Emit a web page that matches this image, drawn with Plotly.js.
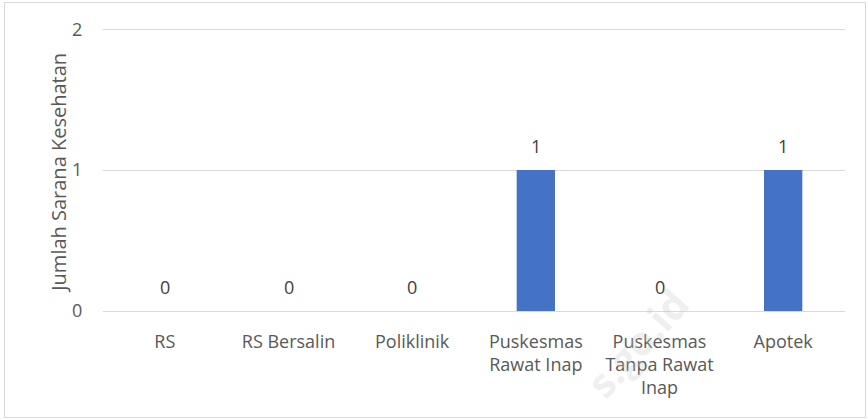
<!DOCTYPE html>
<html>
<head>
<meta charset="utf-8">
<script src="https://cdn.plot.ly/plotly-3.0.1.min.js"></script>
<style>
html,body{margin:0;padding:0;background:#fff;}
#wrap{position:relative;width:868px;height:420px;}
#chart{position:absolute;left:0;top:0;width:868px;height:420px;}
#frame{position:absolute;left:4px;top:2px;width:860px;height:414px;border:1px solid #d9d9d9;pointer-events:none;}
</style>
</head>
<body>
<div id="wrap"><div id="chart"></div><div id="frame"></div></div>
<script>
const categories = ["RS", "RS Bersalin", "Poliklinik", "Puskesmas<br>Rawat Inap", "Puskesmas<br>Tanpa Rawat<br>Inap", "Apotek"];
const values = [0, 0, 0, 1, 0, 1];
const yTicks = [0, 1, 2];
const yTitle = 'Jumlah Sarana Kesehatan';

const font = "'Open Sans', 'Noto Sans', sans-serif";

const labelAnnotations = categories.map((c, i) => ({
  x: c, y: values[i], xref: 'x', yref: 'y',
  text: String(values[i]), showarrow: false,
  yanchor: 'bottom', yshift: 10,
  font: {family: font, size: 18, color: '#404040'}
}));

Plotly.newPlot('chart', [{
  type: 'bar',
  x: categories,
  y: values,
  marker: {color: '#4472c4'},
  hoverinfo: 'none'
}], {
  width: 868, height: 420,
  margin: {l: 103, r: 23, t: 25, b: 109},
  paper_bgcolor: '#fff', plot_bgcolor: '#fff',
  bargap: 0.69,
  showlegend: false,
  font: {family: font, size: 18, color: '#595959'},
  xaxis: {
    type: 'category',
    tickfont: {family: font, size: 18, color: '#595959'},
    showgrid: false, zeroline: false, showline: false,
    ticks: 'outside', ticklen: 14, tickcolor: 'rgba(0,0,0,0)'
  },
  yaxis: {
    range: [0, 2.03],
    tickvals: yTicks,
    ticktext: yTicks.map(String),
    showgrid: true, gridcolor: '#d9d9d9', gridwidth: 1,
    zeroline: true, zerolinecolor: '#d9d9d9', zerolinewidth: 1,
    showline: false,
    ticks: 'outside', ticklen: 16, tickcolor: 'rgba(0,0,0,0)',
    tickfont: {family: font, size: 18, color: '#595959'}
  },
  annotations: [{
    text: '<b>s.go.id</b>', xref: 'paper', yref: 'paper', x: 0.72, y: -0.11,
    xanchor: 'center', yanchor: 'middle',
    showarrow: false, textangle: -48,
    font: {family: font, size: 40, color: 'rgba(200,200,200,0.3)'}
  }, {
    text: yTitle, xref: 'paper', yref: 'paper', x: -0.06, y: 0.485,
    xanchor: 'center', yanchor: 'middle',
    showarrow: false, textangle: -90,
    font: {family: font, size: 20, color: '#595959'}
  }].concat(labelAnnotations)
}, {displayModeBar: false, staticPlot: true});
</script>
</body>
</html>
